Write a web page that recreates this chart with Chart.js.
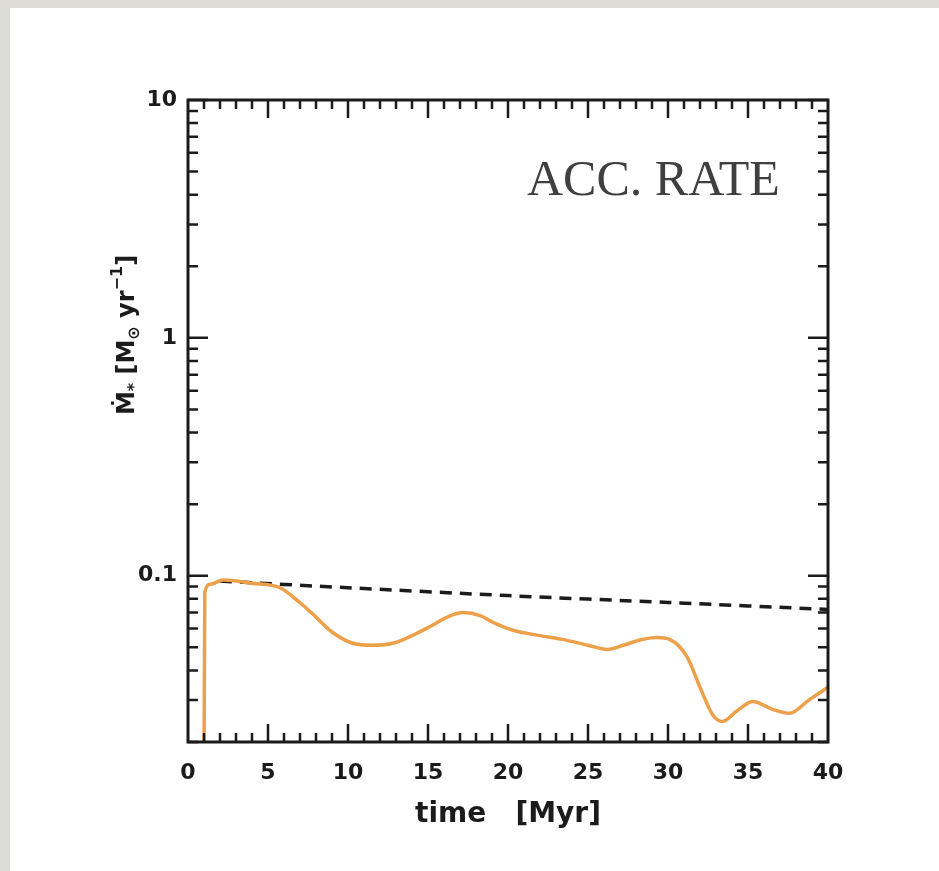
<!DOCTYPE html>
<html>
<head>
<meta charset="utf-8">
<script src="https://cdn.jsdelivr.net/npm/chart.js@4.4.1/dist/chart.umd.min.js"></script>
<style>
  html, body { margin: 0; padding: 0; background: #dcdbd5; }
  canvas { display: block; }
</style>
</head>
<body>
<canvas id="acc" width="939" height="871"></canvas>
<script>
// accretion rate vs time
var accTime = [1.0, 1.05, 1.4, 2.2, 4.0, 5.75, 7.0, 7.8, 9.0, 10.3, 11.5, 12.8, 14.0, 15.1, 16.2, 17.2,
  18.25, 19.2, 20.3, 22.0, 23.4, 25.0, 26.2, 27.2, 28.25, 29.3, 30.1, 31.2, 32.0, 32.8, 33.4, 34.3,
  35.3, 36.5, 37.6, 38.8, 40.0];
var accRate = [0.015, 0.085, 0.092, 0.096, 0.093, 0.089, 0.077, 0.069, 0.058, 0.052, 0.051, 0.052, 0.056, 0.061, 0.067, 0.070,
  0.068, 0.063, 0.059, 0.056, 0.054, 0.051, 0.049, 0.051, 0.0537, 0.055, 0.054, 0.0455, 0.034, 0.026, 0.0244, 0.027,
  0.0296, 0.0275, 0.0264, 0.030, 0.034];

// dashed reference curve
var refTime = [2, 10, 20, 30, 40];
var refRate = [0.095, 0.089, 0.0825, 0.0772, 0.0722];

var xTickValues = [0, 5, 10, 15, 20, 25, 30, 35, 40];
var yTickValues = [0.1, 1, 10];
var yMinorMantissas = [2, 3, 4, 5, 6, 7, 8, 9];
var yDecades = [0.01, 0.1, 1];

var INK = "#1b1b1b";
var ORANGE = "#eda04a";

// page background + white sheet, drawn before anything else
var sheetPlugin = {
  id: "sheet",
  beforeDraw: function (chart) {
    var ctx = chart.ctx;
    ctx.save();
    ctx.fillStyle = "#dcdbd5";
    ctx.fillRect(0, 0, chart.width, chart.height);
    ctx.fillStyle = "#ffffff";
    ctx.fillRect(10, 8, chart.width - 10, chart.height - 8);
    ctx.restore();
  }
};

// boxed frame with inward ticks on all four sides (IDL-style plot)
var framePlugin = {
  id: "frame",
  afterDatasetsDraw: function (chart) {
    var ctx = chart.ctx;
    var a = chart.chartArea;
    var xs = chart.scales.x, ys = chart.scales.y;
    ctx.save();
    ctx.strokeStyle = INK;
    ctx.lineWidth = 2.5;
    ctx.beginPath();
    for (var t = xs.min + 1; t < xs.max; t++) {
      var px = xs.getPixelForValue(t);
      var len = (t % 5 === 0) ? 18 : 9;
      ctx.moveTo(px, a.bottom); ctx.lineTo(px, a.bottom - len);
      ctx.moveTo(px, a.top); ctx.lineTo(px, a.top + len);
    }
    yDecades.forEach(function (d) {
      yMinorMantissas.forEach(function (m) {
        var v = d * m;
        if (v < ys.min || v > ys.max) return;
        var py = ys.getPixelForValue(v);
        ctx.moveTo(a.left, py); ctx.lineTo(a.left + 10, py);
        ctx.moveTo(a.right, py); ctx.lineTo(a.right - 10, py);
      });
    });
    yTickValues.forEach(function (v) {
      var py = ys.getPixelForValue(v);
      ctx.moveTo(a.left, py); ctx.lineTo(a.left + 20, py);
      ctx.moveTo(a.right, py); ctx.lineTo(a.right - 20, py);
    });
    ctx.stroke();
    ctx.lineWidth = 3;
    ctx.strokeRect(a.left, a.top, a.right - a.left, a.bottom - a.top);
    ctx.restore();
  },
  afterDraw: function (chart) {
    var ctx = chart.ctx;
    ctx.save();
    // panel annotation
    ctx.fillStyle = "#3f3f3f";
    ctx.font = '50px "Liberation Serif"';
    ctx.textAlign = "left";
    ctx.textBaseline = "alphabetic";
    ctx.fillText("ACC. RATE", 527, 195);

    // rotated y title with sub/superscripts: Mdot_* [M_sun yr^-1]
    var big = 'bold 24px "DejaVu Sans"';
    var small = 'bold 16px "DejaVu Sans"';
    var parts = [
      { s: "Ṁ", f: big, dy: 0 },
      { s: "*", f: small, dy: 7 },
      { s: " [M", f: big, dy: 0 },
      { s: "⊙", f: small, dy: 7 },
      { s: " yr", f: big, dy: 0 },
      { s: "−1", f: small, dy: -10 },
      { s: "]", f: big, dy: 0 }
    ];
    var total = 0;
    parts.forEach(function (p) { ctx.font = p.f; p.w = ctx.measureText(p.s).width; total += p.w; });
    ctx.translate(128, 335);
    ctx.rotate(-Math.PI / 2);
    ctx.fillStyle = INK;
    ctx.textBaseline = "middle";
    var x = -total / 2;
    parts.forEach(function (p) {
      ctx.font = p.f;
      ctx.fillText(p.s, x, p.dy);
      x += p.w;
    });
    ctx.restore();
  }
};

var tickFont = { family: '"DejaVu Sans"', size: 22, weight: "bold" };

new Chart(document.getElementById("acc"), {
  type: "line",
  data: {
    datasets: [
      {
        label: "accretion rate",
        data: accTime.map(function (t, i) { return { x: t, y: accRate[i] }; }),
        borderColor: ORANGE,
        borderWidth: 3.5,
        pointRadius: 0,
        cubicInterpolationMode: "monotone",
        fill: false
      },
      {
        label: "reference",
        data: refTime.map(function (t, i) { return { x: t, y: refRate[i] }; }),
        borderColor: INK,
        borderWidth: 3.5,
        borderDash: [12, 8],
        pointRadius: 0,
        tension: 0.3,
        fill: false
      }
    ]
  },
  options: {
    responsive: false,
    animation: false,
    devicePixelRatio: 1,
    layout: { padding: { left: 0, top: 100, right: 111, bottom: 0 } },
    plugins: { legend: { display: false }, tooltip: { enabled: false } },
    scales: {
      x: {
        type: "linear",
        min: 0,
        max: 40,
        afterBuildTicks: function (s) { s.ticks = xTickValues.map(function (v) { return { value: v }; }); },
        afterFit: function (s) { s.height = 129; },
        grid: { display: false, drawTicks: false },
        border: { display: false },
        ticks: { color: INK, font: tickFont, padding: 18, maxRotation: 0 },
        title: {
          display: true,
          text: "time   [Myr]",
          color: INK,
          font: { family: '"DejaVu Sans"', size: 28, weight: "bold" },
          padding: { top: 0, bottom: 39 }
        }
      },
      y: {
        type: "logarithmic",
        min: 0.02,
        max: 10,
        afterBuildTicks: function (s) { s.ticks = yTickValues.map(function (v) { return { value: v }; }); },
        afterFit: function (s) { s.width = 188; },
        grid: { display: false, drawTicks: false },
        border: { display: false },
        ticks: {
          color: INK,
          font: tickFont,
          padding: 11,
          callback: function (v) { return String(v); }
        }
      }
    }
  },
  plugins: [sheetPlugin, framePlugin]
});
</script>
</body>
</html>
